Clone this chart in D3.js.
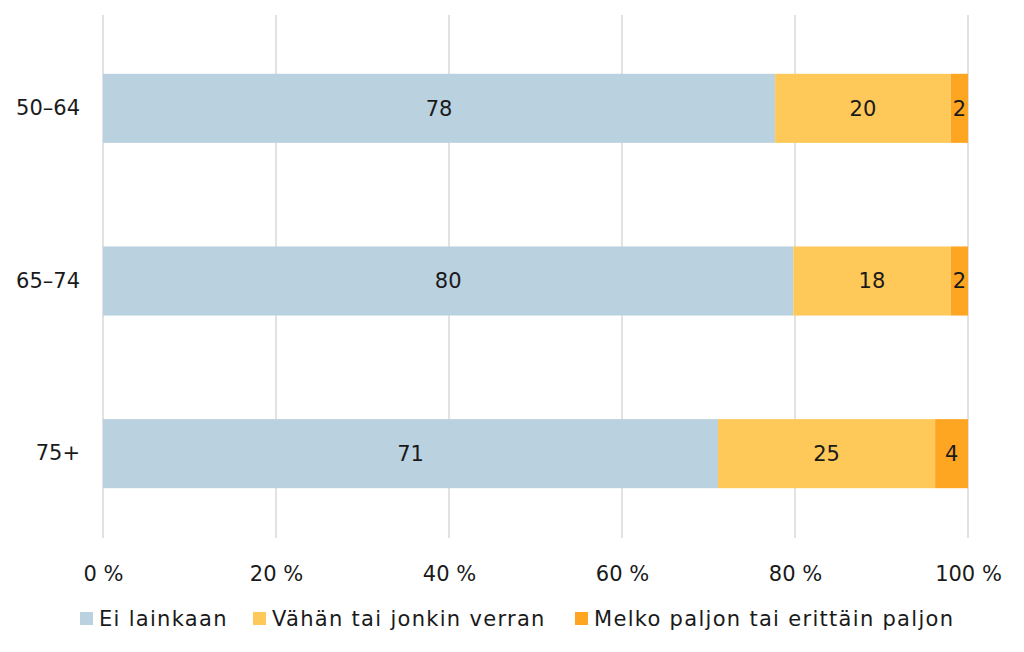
<!DOCTYPE html>
<html><head><meta charset="utf-8">
<script src="https://cdn.jsdelivr.net/npm/d3@7"></script>
<style>body{margin:0;background:#fff}text{font-family:"DejaVu Sans",sans-serif;fill:#1a1a1a}</style>
</head><body><svg id="c" width="1024" height="652"></svg>
<script>
const categories = ["50–64", "65–74", "75+"];
const seriesNames = ["Ei lainkaan", "Vähän tai jonkin verran", "Melko paljon tai erittäin paljon"];
const eiLainkaan = [77.7, 79.8, 71.1];
const vahan = [20.3, 18.2, 25.1];
const melko = [2.0, 2.0, 3.8];
const labels = [[78, 20, 2], [80, 18, 2], [71, 25, 4]];
const tickValues = [0, 20, 40, 60, 80, 100];
const colors = ["#bad2e0", "#fec958", "#fea521"];

const FS = "21px";
const svg = d3.select("#c");
const x = d3.scaleLinear().domain([0, 100]).range([103, 968]);
const y = d3.scaleBand().domain(categories).range([22, 540]).paddingInner(0.6).paddingOuter(0.3);

svg.append("g").selectAll("line").data(tickValues).join("line")
  .attr("x1", d => x(d)).attr("x2", d => x(d)).attr("y1", 15).attr("y2", 538)
  .attr("stroke", "#d9d9d9").attr("stroke-width", 1.5);

const xAxis = d3.axisBottom(x).tickValues(tickValues).tickFormat(d => d + " %").tickSize(0).tickPadding(0);
const gx = svg.append("g").attr("transform", "translate(0,574)").call(xAxis);
gx.select(".domain").remove();
gx.selectAll("text").attr("dy", "0.35em").style("font-size", FS);

const yAxis = d3.axisLeft(y).tickSize(0).tickPadding(0);
const gy = svg.append("g").attr("transform", "translate(80,0)").call(yAxis);
gy.select(".domain").remove();
gy.selectAll("text").style("font-size", FS);

const rows = categories.map((c, i) => ({cat: c, vals: [eiLainkaan[i], vahan[i], melko[i]], labs: labels[i]}));
const segs = [];
rows.forEach(r => { let s = 0; r.vals.forEach((v, j) => { segs.push({cat: r.cat, x0: s, x1: s + v, j, lab: r.labs[j]}); s += v; }); });

svg.append("g").selectAll("rect").data(segs).join("rect")
  .attr("x", d => x(d.x0)).attr("width", d => x(d.x1) - x(d.x0))
  .attr("y", d => y(d.cat)).attr("height", y.bandwidth())
  .attr("fill", d => colors[d.j]);

svg.append("g").selectAll("text").data(segs).join("text")
  .attr("x", d => (x(d.x0) + x(d.x1)) / 2).attr("y", d => y(d.cat) + y.bandwidth() / 2)
  .attr("text-anchor", "middle").attr("dy", "0.35em").style("font-size", FS)
  .text(d => d.lab);

const legX = [80, 253, 575];
const lg = svg.append("g").selectAll("g").data(seriesNames).join("g")
  .attr("transform", (d, i) => `translate(${legX[i]},612)`);
lg.append("rect").attr("width", 13).attr("height", 13).attr("fill", (d, i) => colors[i]);
lg.append("text").attr("x", 19).attr("y", 6.5).attr("dy", "0.35em").style("font-size", FS).style("letter-spacing", "1.3px").text(d => d);
</script></body></html>
